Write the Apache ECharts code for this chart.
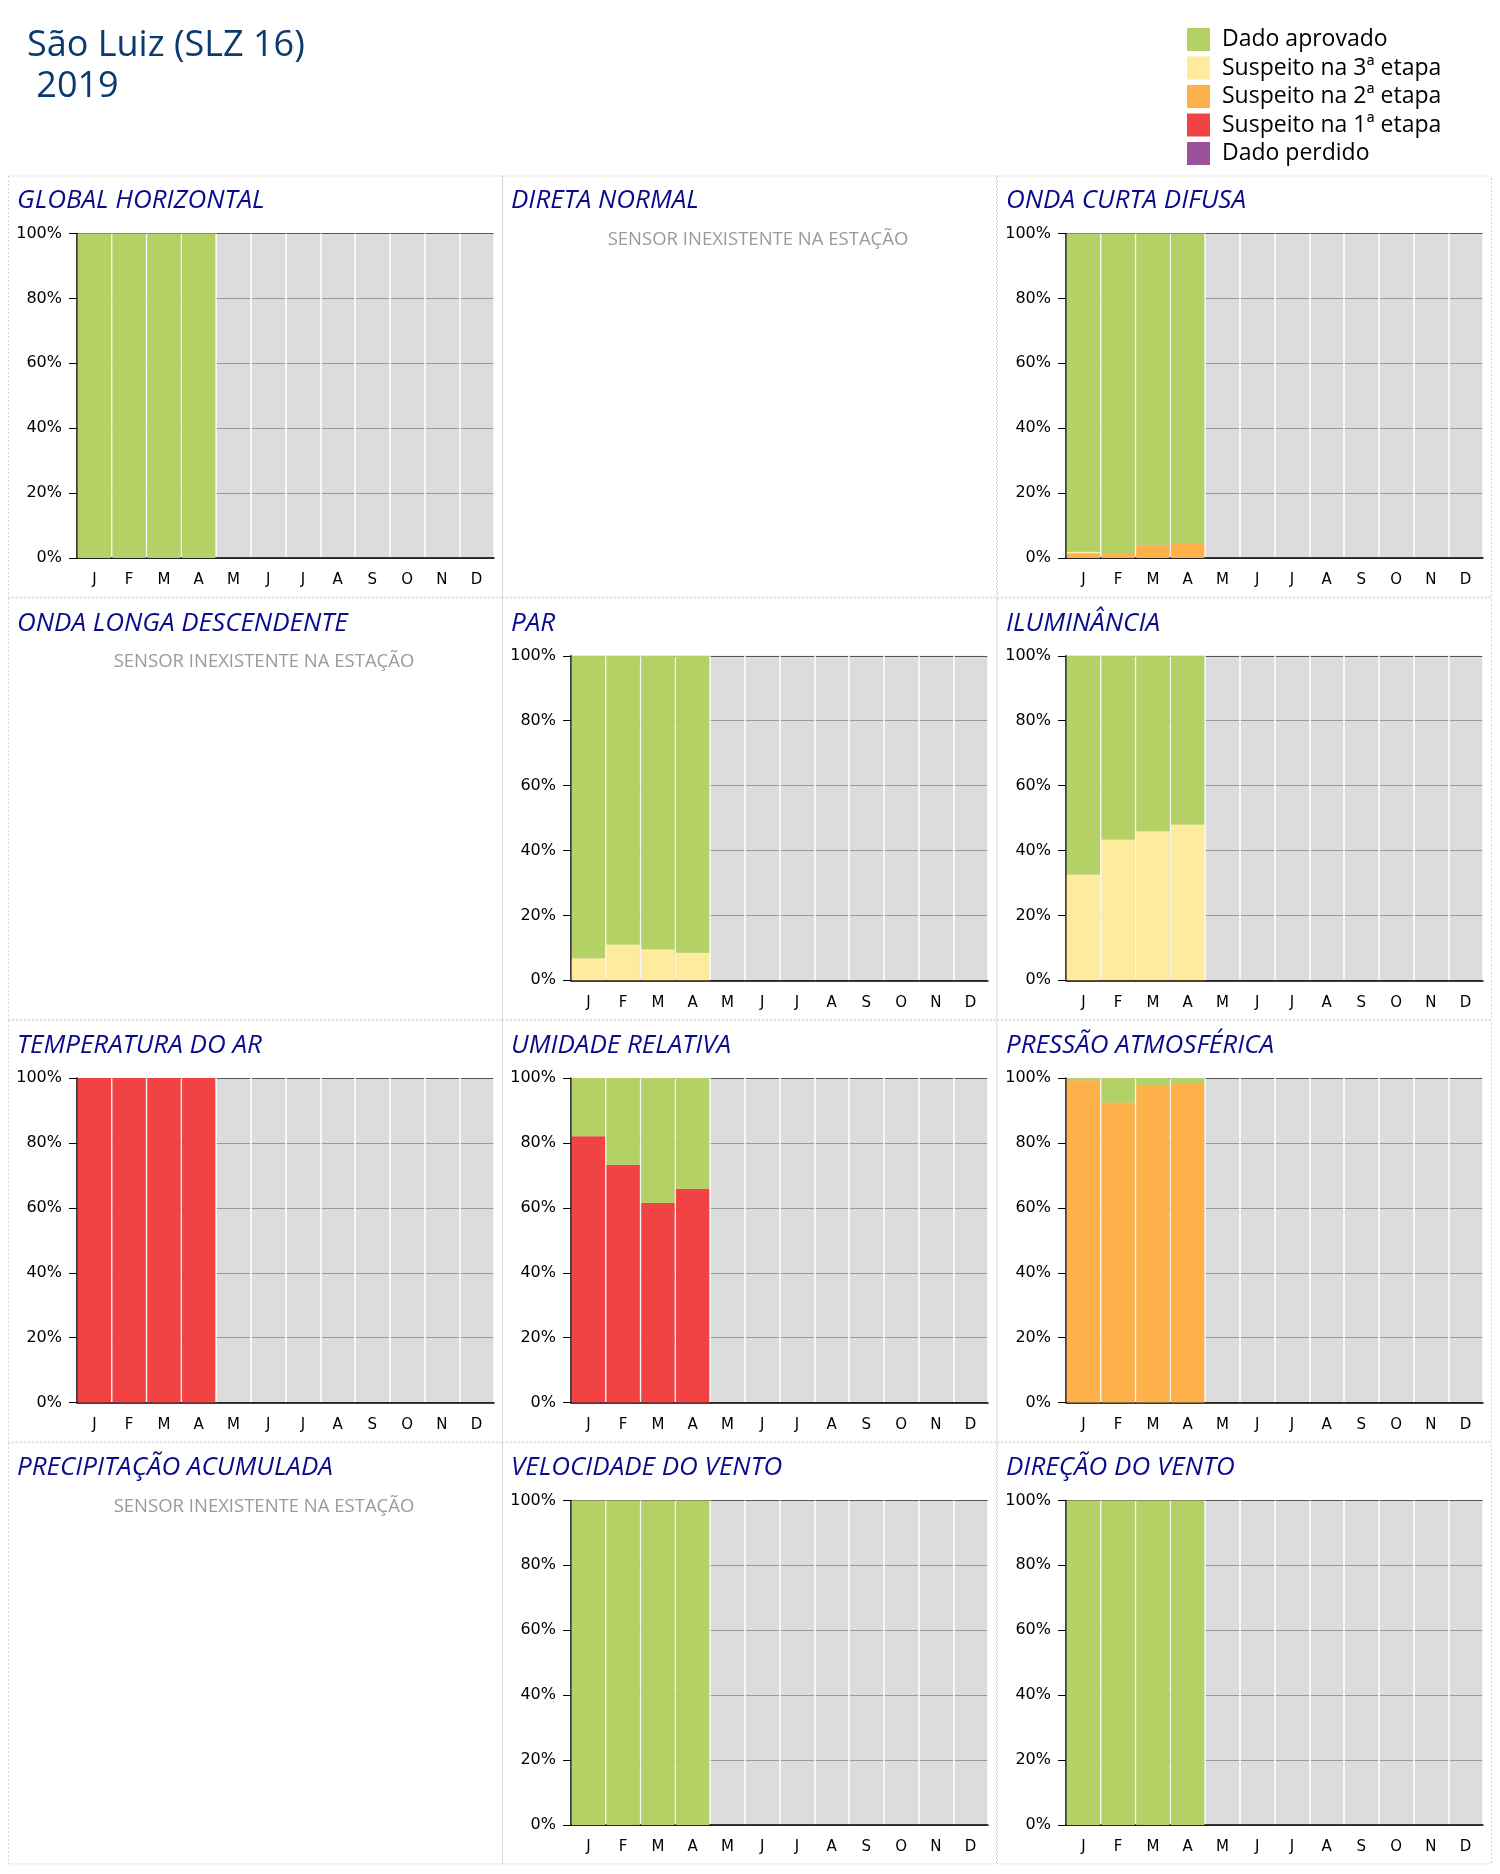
<!DOCTYPE html>
<html>
<head>
<meta charset="utf-8">
<script src="https://cdn.jsdelivr.net/npm/echarts@6/dist/echarts.min.js"></script>
<style>html,body{margin:0;padding:0;background:#fff;}#c{width:1500px;height:1874px;}</style>
</head>
<body>
<div id="c"></div>
<script>
// ---- data ----
const months = ['J','F','M','A','M','J','J','A','S','O','N','D'];
const legendNames = ['Dado aprovado','Suspeito na 3ª etapa','Suspeito na 2ª etapa','Suspeito na 1ª etapa','Dado perdido'];
const legendColors = ['#b3d165','#feeb9b','#feb04b','#f14343','#9b5199'];

const ghApproved   = [100,100,100,100];

const ocdStage2    = [1.5,1.2,4.1,4.6];
const ocdStage3    = [0.4,0,0,0];
const ocdApproved  = [98.1,98.8,95.9,95.4];

const parStage3    = [6.8,11.0,9.6,8.5];
const parApproved  = [93.2,89.0,90.4,91.5];

const ilumStage2   = [0,0.2,0.2,0.2];
const ilumStage3   = [32.6,43.2,45.7,47.8];
const ilumApproved = [67.4,56.6,54.1,52.0];

const tempStage1   = [100,100,100,100];

const umidStage1   = [82.1,73.3,61.5,65.9];
const umidApproved = [17.9,26.7,38.5,34.1];

const presStage2   = [99.3,92.5,97.6,98.4];
const presApproved = [0.7,7.5,2.4,1.6];

const velApproved  = [100,100,100,100];
const dirApproved  = [100,100,100,100];

// panels: title, row, col, series (bottom->top: perdido, 1a, 2a, 3a, aprovado)
const panels = [
  {title:'GLOBAL HORIZONTAL', r:0, c:0, approved:ghApproved},
  {title:'DIRETA NORMAL', r:0, c:1, empty:true},
  {title:'ONDA CURTA DIFUSA', r:0, c:2, s2:ocdStage2, s3:ocdStage3, approved:ocdApproved},
  {title:'ONDA LONGA DESCENDENTE', r:1, c:0, empty:true},
  {title:'PAR', r:1, c:1, s3:parStage3, approved:parApproved},
  {title:'ILUMINÂNCIA', r:1, c:2, s2:ilumStage2, s3:ilumStage3, approved:ilumApproved},
  {title:'TEMPERATURA DO AR', r:2, c:0, s1:tempStage1},
  {title:'UMIDADE RELATIVA', r:2, c:1, s1:umidStage1, approved:umidApproved},
  {title:'PRESSÃO ATMOSFÉRICA', r:2, c:2, s2:presStage2, approved:presApproved},
  {title:'PRECIPITAÇÃO ACUMULADA', r:3, c:0, empty:true},
  {title:'VELOCIDADE DO VENTO', r:3, c:1, approved:velApproved},
  {title:'DIREÇÃO DO VENTO', r:3, c:2, approved:dirApproved}
];

// ---- layout ----
const colLeft = [8, 502, 997];
const panelW = 494;
const rowTop0 = 175.5, rowStep = 422.3, panelH = 421;

function pad(arr){
  const out = [];
  for (let i=0;i<12;i++) out.push(arr && i<arr.length ? arr[i] : null);
  return out;
}

const grids=[], xAxes=[], yAxes=[], series=[], graphics=[];
let gi = 0;
panels.forEach(p=>{
  const px = colLeft[p.c], py = rowTop0 + p.r*rowStep;
  graphics.push({type:'rect', shape:{x:px+0.5,y:py+0.5,width:panelW,height:panelH},
    style:{fill:null, stroke:'#d4d4d4', lineWidth:1, lineDash:[2,2]}, silent:true, z:-1});
  graphics.push({type:'text', x:px+9, y:py+25.5,
    style:{text:p.title, fill:'#0a0a8c', font:'italic 26px "Open Sans", "Noto Sans", sans-serif',
      textVerticalAlign:'middle'}});
  if (p.empty){
    graphics.push({type:'text', x:px+256, y:py+64,
      style:{text:'SENSOR INEXISTENTE NA ESTAÇÃO', fill:'#9a9a9a', font:'18.5px "Open Sans", sans-serif',
        textAlign:'center', textVerticalAlign:'middle'}});
    return;
  }
  grids.push({left:px+69, top:py+58, width:417, height:324.5, show:true,
    backgroundColor:'#dcdcdc', borderWidth:0, containLabel:false});
  xAxes.push({type:'category', gridIndex:gi, data:months,
    axisLine:{lineStyle:{color:'#000',width:1.5}},
    axisTick:{length:8, lineStyle:{color:'#000'}},
    axisLabel:{color:'#000', fontSize:15, fontFamily:'DejaVu Sans', margin:15, interval:0},
    splitLine:{show:true, lineStyle:{color:'#ffffff', width:1.5}}});
  yAxes.push({type:'value', gridIndex:gi, min:0, max:100, interval:20,
    axisLine:{show:true, lineStyle:{color:'#000',width:1.5}},
    axisTick:{show:true, length:8, lineStyle:{color:'#000'}},
    axisLabel:{color:'#000', fontSize:16, fontFamily:'DejaVu Sans', margin:15, formatter:'{value}%'},
    splitLine:{show:true, lineStyle:{color:['#999','#999','#999','#999','#999','#555'], width:1}}});
  const stackData = [null, p.s1, p.s2, p.s3, p.approved]; // perdido, 1a, 2a, 3a, aprovado
  const nameIdx = [4,3,2,1,0];
  stackData.forEach((d,k)=>{
    series.push({type:'bar', name:legendNames[nameIdx[k]], xAxisIndex:gi, yAxisIndex:gi,
      stack:'s'+gi, data:pad(d), barCategoryGap:'4%',
      itemStyle:{color:legendColors[nameIdx[k]]}, emphasis:{disabled:true}});
  });
  gi++;
});

const chart = echarts.init(document.getElementById('c'), null, {renderer:'canvas'});
chart.setOption({
  animation:false,
  backgroundColor:'#ffffff',
  title:{text:'São Luiz (SLZ 16)\n 2019', left:22, top:20,
    textStyle:{color:'#0b3a70', fontSize:36, fontWeight:'normal', fontFamily:'"Open Sans", sans-serif', lineHeight:41}},
  legend:{orient:'vertical', left:1182, top:23, itemWidth:23, itemHeight:23, itemGap:5.5,
    icon:'rect', data:legendNames, selectedMode:false,
    textStyle:{fontSize:23, lineHeight:23, color:'#000', fontFamily:'"Open Sans", sans-serif', padding:[0,0,0,7]}},
  grid:grids, xAxis:xAxes, yAxis:yAxes, series:series,
  graphic:graphics
});
</script>
</body>
</html>
